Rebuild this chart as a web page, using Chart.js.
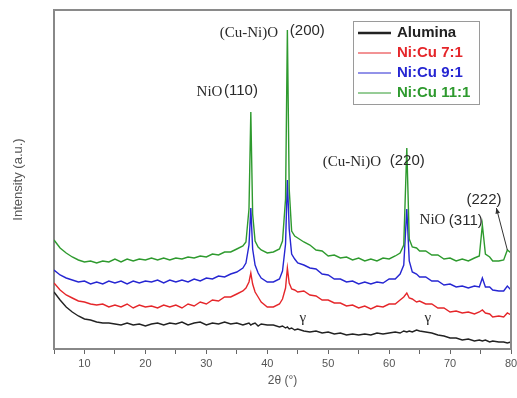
<!DOCTYPE html>
<html>
<head>
<meta charset="utf-8">
<script src="https://cdn.jsdelivr.net/npm/chart.js@4.4.0/dist/chart.umd.min.js"></script>
<style>
html, body { margin: 0; padding: 0; background: #fff; }
</style>
</head>
<body>
<canvas id="xrd" width="517" height="398"></canvas>
<script>
// 2theta positions (deg)
var angles = [
  5, 6, 7, 8, 9, 10, 11, 12, 13, 14,
  15, 16, 17, 18, 19, 20, 21, 22, 23, 24,
  25, 26, 27, 28, 29, 30, 31, 32, 33, 34,
  35, 36, 36.5, 37, 37.3, 37.6, 38, 38.5, 39, 40,
  41, 42, 42.5, 43, 43.3, 43.6, 44, 44.5, 45, 46,
  47, 48, 49, 50, 51, 52, 53, 54, 55, 56,
  57, 58, 59, 60, 61, 61.8, 62.4, 62.9, 63.3, 63.8,
  64.5, 65, 66, 67, 68, 69, 70, 71, 72, 73,
  74, 74.8, 75.3, 75.8, 76.5, 77, 78, 78.8, 79.4, 80
];

var alumina = [
  57, 49, 42, 37, 33, 30, 29, 27, 26, 26,
  25, 24, 26, 24, 25, 23, 25, 26, 24, 26,
  25, 27, 24, 26, 27, 24, 26, 25, 27, 25,
  26, 24, 25, 26, 24, 25, 26, 23, 25, 24,
  24, 22, 23, 21, 22, 20, 21, 19, 20, 18,
  17, 18, 16, 17, 15, 16, 14, 15, 14, 15,
  14, 16, 15, 16, 17, 16, 18, 17, 18, 17,
  19, 18, 17, 16, 14, 13, 11, 11, 9, 10,
  8, 9, 8, 9, 7, 8, 7, 7, 6, 7
];

var nicu71 = [
  66, 59, 54, 51, 48, 47, 45, 44, 45, 42,
  44, 42, 45, 41, 44, 42, 43, 41, 44, 42,
  44, 41, 45, 43, 47, 45, 49, 48, 52, 52,
  55, 58, 61, 67, 76, 65, 57, 52, 47, 42,
  42, 45, 50, 61, 81, 66, 60, 59, 57, 58,
  54, 53, 49, 49, 46, 46, 43, 44, 41, 43,
  40, 43, 42, 45, 45, 49, 52, 56, 51, 50,
  47, 48, 45, 45, 41, 41, 37, 38, 36, 37,
  35, 37, 39, 36, 35, 32, 33, 32, 36, 34
];

var nicu91 = [
  79, 74, 71, 69, 67, 68, 65, 67, 65, 68,
  66, 68, 65, 68, 66, 68, 67, 69, 66, 69,
  67, 69, 67, 70, 68, 71, 70, 73, 72, 75,
  77, 81, 86, 104, 141, 100, 84, 76, 71, 67,
  67, 70, 78, 105, 169, 120, 95, 90, 86, 84,
  81, 80, 75, 74, 70, 70, 67, 68, 65, 67,
  65, 67, 66, 70, 70, 75, 84, 140, 88, 77,
  75, 72, 72, 68, 68, 64, 65, 62, 63, 61,
  63, 62, 71, 62, 62, 59, 58, 58, 63, 59
];

var nicu111 = [
  109, 101, 96, 92, 89, 87, 88, 86, 88, 87,
  90, 87, 90, 88, 90, 89, 91, 89, 91, 89,
  91, 90, 92, 91, 93, 92, 95, 94, 97, 97,
  100, 103, 107, 140, 237, 135, 108, 102, 99, 96,
  97, 100, 108, 150, 319, 160, 118, 113, 111, 107,
  104, 99, 98, 93, 94, 91, 92, 89, 91, 88,
  90, 88, 91, 90, 93, 96, 104, 201, 110, 102,
  101, 98, 98, 94, 94, 90, 91, 88, 90, 88,
  91, 93, 124, 95, 92, 88, 88, 89, 99, 96
];

var seriesNames = ['Alumina', 'Ni:Cu 7:1', 'Ni:Cu 9:1', 'Ni:Cu 11:1'];
var seriesColors = ['#222222', '#e5262a', '#2626d2', '#2e9a2e'];

// peak labels: [text, x (deg), y (a.u.), font]
var serif = '15px "Liberation Serif", "DejaVu Serif", serif';
var sans = '15px "Liberation Sans", Arial, sans-serif';
var peakLabels = [
  ['(Cu-Ni)O', 32.2, 316, serif],
  ['(200)', 43.7, 318, sans],
  ['NiO', 28.4, 257, serif],
  ['(110)', 32.9, 258, sans],
  ['(Cu-Ni)O', 49.1, 187, serif],
  ['(220)', 60.1, 188, sans],
  ['NiO', 65.0, 129, serif],
  ['(311)', 69.8, 128, sans],
  ['(222)', 72.7, 149, sans],
  ['\u03b3', 45.3, 31, serif],
  ['\u03b3', 65.8, 31, serif]
];

function toPoints(ys) {
  return angles.map(function (a, i) { return { x: a, y: ys[i] }; });
}

var framePlugin = {
  id: 'frame',
  afterDraw: function (chart) {
    var a = chart.chartArea, ctx = chart.ctx;
    ctx.save();
    ctx.strokeStyle = '#8a8a8a';
    ctx.lineWidth = 2;
    ctx.beginPath();
    ctx.moveTo(a.left, a.top);
    ctx.lineTo(a.right, a.top);
    ctx.lineTo(a.right, a.bottom);
    ctx.stroke();
    ctx.restore();
  }
};

var labelPlugin = {
  id: 'peakLabels',
  afterDraw: function (chart) {
    var ctx = chart.ctx, xs = chart.scales.x, ys = chart.scales.y;
    ctx.save();
    ctx.fillStyle = '#2a2a2a';
    ctx.textBaseline = 'middle';
    ctx.textAlign = 'left';
    peakLabels.forEach(function (l) {
      ctx.font = l[3];
      ctx.fillText(l[0], xs.getPixelForValue(l[1]), ys.getPixelForValue(l[2]));
    });
    // arrow to the (222) peak
    var x0 = xs.getPixelForValue(79.4), y0 = ys.getPixelForValue(99);
    var x1 = xs.getPixelForValue(77.6), y1 = ys.getPixelForValue(141);
    ctx.strokeStyle = '#333';
    ctx.lineWidth = 1;
    ctx.beginPath();
    ctx.moveTo(x0, y0);
    ctx.lineTo(x1, y1);
    ctx.stroke();
    var ang = Math.atan2(y1 - y0, x1 - x0);
    ctx.beginPath();
    ctx.moveTo(x1, y1);
    ctx.lineTo(x1 - 6 * Math.cos(ang - 0.4), y1 - 6 * Math.sin(ang - 0.4));
    ctx.lineTo(x1 - 6 * Math.cos(ang + 0.4), y1 - 6 * Math.sin(ang + 0.4));
    ctx.closePath();
    ctx.fillStyle = '#333';
    ctx.fill();
    ctx.restore();
  }
};

var legendPlugin = {
  id: 'boxLegend',
  afterDraw: function (chart) {
    var ctx = chart.ctx;
    var bx = 353, by = 21, bw = 126, bh = 83;
    ctx.save();
    ctx.strokeStyle = '#9a9a9a';
    ctx.lineWidth = 1;
    ctx.strokeRect(bx + 0.5, by + 0.5, bw, bh);
    ctx.font = 'bold 15px "Liberation Sans", Arial, sans-serif';
    ctx.textBaseline = 'middle';
    seriesNames.forEach(function (name, i) {
      var y = by + 12 + i * 20;
      ctx.strokeStyle = seriesColors[i];
      ctx.lineWidth = i === 0 ? 2.5 : 1;
      ctx.beginPath();
      ctx.moveTo(bx + 5, y);
      ctx.lineTo(bx + 38, y);
      ctx.stroke();
      ctx.fillStyle = seriesColors[i];
      ctx.fillText(name, bx + 44, y);
    });
    ctx.restore();
  }
};

var seriesData = [alumina, nicu71, nicu91, nicu111];

new Chart(document.getElementById('xrd'), {
  type: 'line',
  data: {
    datasets: seriesData.map(function (ys, i) {
      return {
        label: seriesNames[i],
        data: toPoints(ys),
        borderColor: seriesColors[i],
        borderWidth: 1.4,
        pointRadius: 0,
        tension: 0,
        fill: false,
        order: 3 - i
      };
    })
  },
  options: {
    responsive: false,
    animation: false,
    devicePixelRatio: 1,
    layout: { padding: { top: 10, right: 6, left: 0, bottom: 0 } },
    plugins: {
      legend: { display: false },
      tooltip: { enabled: false }
    },
    scales: {
      x: {
        type: 'linear',
        min: 5,
        max: 80,
        ticks: {
          stepSize: 5,
          autoSkip: false,
          maxRotation: 0,
          color: '#555',
          padding: 3,
          font: { size: 11, family: '"Liberation Sans", Arial, sans-serif' },
          callback: function (v) { return v % 10 === 0 ? v : ''; }
        },
        grid: { display: true, drawOnChartArea: false, drawTicks: true, tickLength: 5, color: '#666' },
        border: { display: true, color: '#888', width: 2 },
        title: {
          display: true,
          text: '2\u03b8 (\u00b0)',
          color: '#555',
          font: { size: 12, family: '"Liberation Sans", Arial, sans-serif' },
          padding: { top: 0, bottom: 10 }
        },
        afterFit: function (s) {
          s.height = 49;
          s.paddingLeft = 0;
          s.paddingRight = 0;
        }
      },
      y: {
        min: 0,
        max: 339,
        ticks: { display: false },
        grid: { display: false },
        border: { display: true, color: '#888', width: 2 },
        title: {
          display: true,
          text: 'Intensity (a.u.)',
          color: '#555',
          font: { size: 13, family: '"Liberation Sans", Arial, sans-serif' },
          padding: { top: 11, bottom: 0 }
        },
        afterFit: function (s) { s.width = 54; }
      }
    }
  },
  plugins: [framePlugin, labelPlugin, legendPlugin]
});
</script>
</body>
</html>
